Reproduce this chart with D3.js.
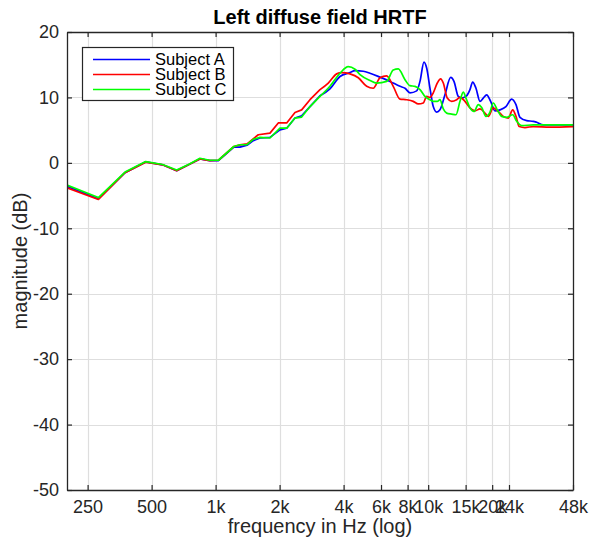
<!DOCTYPE html>
<html><head><meta charset="utf-8">
<script src="https://cdn.jsdelivr.net/npm/d3@7"></script>
<style>body{margin:0;background:#fff}svg{display:block}text{font-family:"Liberation Sans",Arial,sans-serif}</style>
</head><body>
<script>
const title = "Left diffuse field HRTF";
const xLabel = "frequency in Hz (log)";
const yLabel = "magnitude (dB)";
const seriesNames = ["Subject A","Subject B","Subject C"];
const seriesColors = ["#0000ff","#ff0000","#00ff00"];
const xTickValues = [250,500,1000,2000,4000,6000,8000,10000,15000,20000,24000,48000];
const xTickLabels = ["250","500","1k","2k","4k","6k","8k","10k","15k","20k","24k","48k"];
const yTickValues = [20,10,0,-10,-20,-30,-40,-50];

const freqA = [200,281,375,469,563,656,750,844,938,1031,1219,1302,1406,1504,1618,1802,2008,2160,2363,2540,2780,3098,3451,3848,4287,4525,4952,5323,5934,6611,7367,7780,8210,8829,9151,9555,9837,10198,10566,10966,11361,11994,12759,13223,13852,14371,15057,15725,16189,16782,17523,18164,18844,19674,20617,21770,23218,24695,25884,27023,29063,31222,32384,34785,48000];
const magA  = [-3.6,-5.5,-1.5,0.15,-0.3,-1.2,-0.25,0.6,0.35,0.35,2.4,2.4,2.7,3.4,3.8,3.9,5.05,5.3,6.85,7.2,8.6,10.25,11.3,13.2,13.8,14.1,14.0,13.7,13.1,12.45,11.7,11.4,10.7,11.0,12.45,15.4,14.5,11.4,8.6,7.75,8.1,10.4,13.05,12.45,10.15,9.9,10.15,11.2,12.35,11.4,9.4,9.9,10.4,9.4,7.95,8.1,8.6,9.75,8.9,6.95,6.45,6.35,6.2,5.8,5.8];

const freqB = [200,281,375,469,563,656,750,844,938,1031,1219,1302,1406,1588,1802,1972,2160,2363,2540,2780,3098,3389,3712,3919,4287,4691,5138,5518,5934,6379,6850,7367,7925,8510,8983,9481,9837,10198,10566,11037,11450,11779,12294,12899,13614,14113,14895,15725,16600,17523,18494,19174,20240,21367,22552,23808,24973,25884,26816,28523,31222,37400,48000];
const magB  = [-3.8,-5.6,-1.5,0.1,-0.3,-1.2,-0.25,0.6,0.35,0.4,2.5,2.75,2.9,4.3,4.55,6.1,6.1,7.7,8.1,9.65,11.2,12.2,13.6,13.8,13.6,13.0,11.7,11.4,13.0,13.3,11.7,9.75,9.65,9.4,9.0,9.15,10.15,10.0,10.7,12.2,12.85,12.2,9.9,9.4,9.65,10.0,9.4,8.4,7.95,8.25,7.6,7.1,8.4,7.85,7.1,6.85,8.1,7.1,5.55,5.4,5.55,5.45,5.55];

const freqC = [200,281,375,469,563,656,750,844,938,1031,1219,1302,1406,1504,1618,1802,2008,2160,2363,2540,2780,3098,3451,3848,4208,4525,4778,5323,5725,6379,6850,7234,7780,8210,8668,9151,9661,10198,10566,11037,11361,11779,12218,12899,13512,14113,14621,15057,15725,16421,17208,17852,18701,19524,20240,21131,22166,23398,24973,26085,27532,31222,48000];
const magC  = [-3.4,-5.3,-1.4,0.2,-0.25,-1.1,-0.2,0.7,0.4,0.4,2.5,2.77,2.8,3.6,3.9,3.8,5.3,5.3,6.85,7.0,8.6,10.15,11.7,13.7,14.7,14.3,13.5,12.6,12.2,12.45,14.2,14.35,12.7,11.8,11.7,11.2,10.15,9.65,9.4,9.4,9.65,8.25,7.6,7.45,7.35,9.4,10.8,9.9,8.4,7.85,8.9,8.45,7.1,7.75,9.15,8.1,7.1,6.95,7.35,6.35,5.7,5.8,5.8];

// frequency below which the measured bins are joined by straight segments
const linearBelow = 3100;

const W = 592, H = 540;
const m = {left:67, right:573, top:32, bottom:490};
const svg = d3.select("body").append("svg").attr("width",W).attr("height",H);
const x = d3.scaleLog().domain([200,48000]).range([m.left,m.right]);
const y = d3.scaleLinear().domain([-50,20]).range([m.bottom,m.top]);
const axisColor = "#262626";

// grid
const g = svg.append("g");
g.selectAll("line.gx").data(xTickValues.slice(0,-1)).join("line")
  .attr("x1",d=>Math.round(x(d))+0.5).attr("x2",d=>Math.round(x(d))+0.5)
  .attr("y1",m.top).attr("y2",m.bottom).attr("stroke","#dedede").attr("stroke-width",1.2);
g.selectAll("line.gy").data(yTickValues.slice(1,-1)).join("line")
  .attr("y1",d=>Math.round(y(d))+0.5).attr("y2",d=>Math.round(y(d))+0.5)
  .attr("x1",m.left).attr("x2",m.right).attr("stroke","#dedede").attr("stroke-width",1.2);

// clip
svg.append("clipPath").attr("id","clip").append("rect")
  .attr("x",m.left).attr("y",m.top).attr("width",m.right-m.left).attr("height",m.bottom-m.top);

const series = [
  {name:seriesNames[0], color:seriesColors[0], f:freqA, v:magA},
  {name:seriesNames[1], color:seriesColors[1], f:freqB, v:magB},
  {name:seriesNames[2], color:seriesColors[2], f:freqC, v:magC}
];
const lineLin = d3.line().x(d=>x(d[0])).y(d=>y(d[1])).curve(d3.curveLinear);
const lineSm = d3.line().x(d=>x(d[0])).y(d=>y(d[1])).curve(d3.curveMonotoneX);
const plot = svg.append("g").attr("clip-path","url(#clip)");
series.forEach(s=>{
  const pts = s.f.map((f,i)=>[f,s.v[i]]);
  const lo = pts.filter(p=>p[0]<=linearBelow);
  const hi = pts.filter(p=>p[0]>=lo[lo.length-1][0]);
  const d = lineLin(lo) + lineSm(hi).replace(/^M[^LC]*/, "");
  plot.append("path").attr("d",lineLin(lo)+"L"+lineSm(hi).slice(1))
    .attr("fill","none").attr("stroke",s.color).attr("stroke-width",1.7)
    .attr("stroke-linejoin","round");
});

// axes
const xb = svg.append("g").attr("transform",`translate(0,${m.bottom})`)
  .call(d3.axisBottom(x).tickValues(xTickValues).tickFormat((d,i)=>xTickLabels[i]).tickSizeInner(-5).tickSizeOuter(0).tickPadding(10));
const xt = svg.append("g").attr("transform",`translate(0,${m.top})`)
  .call(d3.axisTop(x).tickValues(xTickValues).tickFormat("").tickSizeInner(-5).tickSizeOuter(0));
const yl = svg.append("g").attr("transform",`translate(${m.left},0)`)
  .call(d3.axisLeft(y).tickValues(yTickValues).tickFormat(d3.format("d")).tickSizeInner(-5).tickSizeOuter(0).tickPadding(8));
const yr = svg.append("g").attr("transform",`translate(${m.right},0)`)
  .call(d3.axisRight(y).tickValues(yTickValues).tickFormat("").tickSizeInner(-5).tickSizeOuter(0));
[xb,xt,yl,yr].forEach(a=>{
  a.select(".domain").attr("stroke",axisColor).attr("stroke-width",1.3);
  a.selectAll(".tick line").attr("stroke",axisColor).attr("stroke-width",1.2);
  a.selectAll(".tick text").attr("fill",axisColor).attr("font-size",18).attr("font-family","Liberation Sans, Arial, sans-serif");
});
xb.selectAll(".tick text").attr("dy","0.71em");
yl.selectAll(".tick text").text(d=>d3.format("d")(d).replace("\u2212","-"));

// titles
svg.append("text").attr("x",320).attr("y",24).attr("text-anchor","middle")
  .attr("font-size",20).attr("font-weight","bold").attr("fill","#000").text(title);
svg.append("text").attr("x",320).attr("y",533).attr("text-anchor","middle")
  .attr("font-size",20).attr("fill",axisColor).text(xLabel);
svg.append("text").attr("transform",`translate(27,${(m.top+m.bottom)/2}) rotate(-90)`).attr("text-anchor","middle")
  .attr("font-size",20).attr("fill",axisColor).text(yLabel);

// legend
const lg = svg.append("g");
lg.append("rect").attr("x",82.5).attr("y",47.5).attr("width",151).attr("height",53)
  .attr("fill","#fff").attr("stroke",axisColor).attr("stroke-width",1.2);
const rowY = [59.5,74.5,89.5];
series.forEach((s,i)=>{
  lg.append("line").attr("x1",93).attr("x2",150).attr("y1",rowY[i]).attr("y2",rowY[i])
    .attr("stroke",s.color).attr("stroke-width",1.7);
  lg.append("text").attr("x",155).attr("y",rowY[i]).attr("dy","0.35em")
    .attr("font-size",16.5).attr("fill","#000").text(s.name);
});
</script>
</body></html>
